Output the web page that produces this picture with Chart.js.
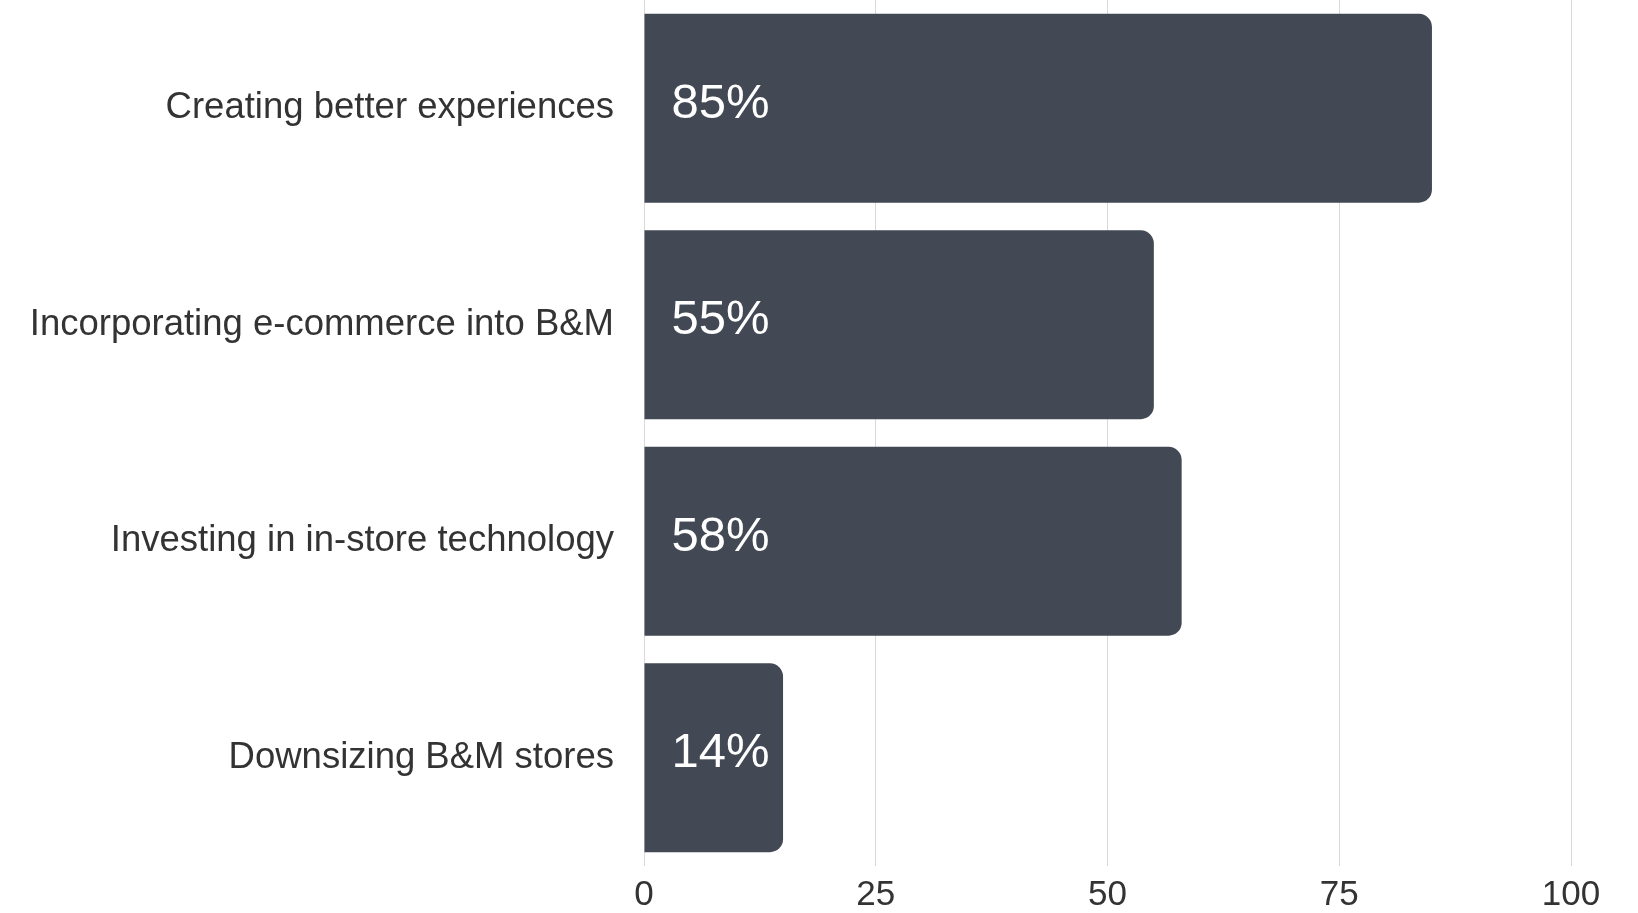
<!DOCTYPE html>
<html>
<head>
<meta charset="utf-8">
<script src="https://cdn.jsdelivr.net/npm/chart.js@4.4.1/dist/chart.umd.min.js"></script>
<style>
  html, body { margin: 0; padding: 0; background: #fff; }
  #wrap { width: 1638px; height: 913px; }
</style>
</head>
<body>
<div id="wrap"><canvas id="barChart"></canvas></div>
<script>
// Data
const categories = [
    'Creating better experiences',
    'Incorporating e-commerce into B&M',
    'Investing in in-store technology',
    'Downsizing B&M stores'
];
// bar lengths as drawn on the axis (the last bar reaches 15 although it is labelled 14%)
const barValues = [85, 55, 58, 15];
const barLabels = ['85%', '55%', '58%', '14%'];
const xTicks = [0, 25, 50, 75, 100];

const barColor = '#434954';

// draws the percentage labels inside each bar, right-aligned near the bar start
const insideLabels = {
    id: 'insideLabels',
    afterDatasetsDraw(chart) {
        const ctx = chart.ctx;
        const meta = chart.getDatasetMeta(0);
        ctx.save();
        ctx.fillStyle = '#ffffff';
        ctx.font = '49px "Liberation Sans", Arial, sans-serif';
        ctx.textAlign = 'right';
        ctx.textBaseline = 'middle';
        meta.data.forEach((bar, i) => {
            ctx.fillText(barLabels[i], bar.base + 125, bar.y - 4);
        });
        ctx.restore();
    }
};

const ctx = document.getElementById('barChart').getContext('2d');

new Chart(ctx, {
    type: 'bar',
    data: {
        labels: categories,
        datasets: [{
            data: barValues,
            backgroundColor: barColor,
            borderWidth: 0,
            borderSkipped: 'start',
            borderRadius: { topLeft: 0, bottomLeft: 0, topRight: 13, bottomRight: 13 },
            categoryPercentage: 1,
            barPercentage: 0.872
        }]
    },
    options: {
        indexAxis: 'y',
        responsive: true,
        maintainAspectRatio: false,
        animation: false,
        layout: {
            padding: { left: 0, right: 67, top: 0, bottom: 0 }
        },
        scales: {
            x: {
                min: 0,
                max: 100,
                afterBuildTicks: (scale) => {
                    scale.ticks = xTicks.map(v => ({ value: v }));
                },
                afterFit: (scale) => {
                    scale.height = 47;
                    scale.paddingLeft = 0;
                    scale.paddingRight = 0;
                },
                grid: {
                    color: '#d9d9d9',
                    lineWidth: 1,
                    drawTicks: false
                },
                border: { display: false },
                ticks: {
                    color: '#333333',
                    padding: 8,
                    maxRotation: 0,
                    font: { family: '"Liberation Sans", Arial, sans-serif', size: 35 }
                }
            },
            y: {
                afterFit: (scale) => {
                    scale.width = 644;
                    scale.paddingTop = 0;
                    scale.paddingBottom = 0;
                },
                grid: { display: false, drawTicks: false },
                border: { display: false },
                ticks: {
                    color: '#333333',
                    padding: 30,
                    font: { family: '"Liberation Sans", Arial, sans-serif', size: 36.5 }
                }
            }
        },
        plugins: {
            legend: { display: false },
            tooltip: { enabled: false }
        }
    },
    plugins: [insideLabels]
});
</script>
</body>
</html>
